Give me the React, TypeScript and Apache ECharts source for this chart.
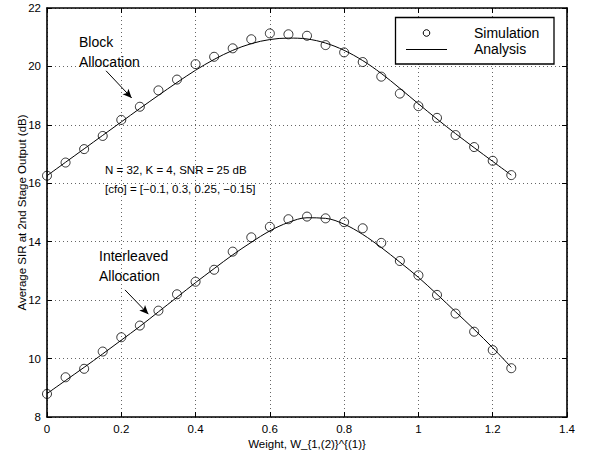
import React, { useEffect, useRef } from "react";
import * as echarts from "echarts";

const weights = [0, 0.05, 0.1, 0.15, 0.2, 0.25, 0.3, 0.35, 0.4, 0.45, 0.5, 0.55, 0.6, 0.65, 0.7, 0.75, 0.8, 0.85, 0.9, 0.95, 1.0, 1.05, 1.1, 1.15, 1.2, 1.25];

const blockSim = [16.26, 16.71, 17.17, 17.62, 18.17, 18.62, 19.18, 19.55, 20.08, 20.33, 20.62, 20.93, 21.13, 21.1, 21.05, 20.73, 20.48, 20.15, 19.65, 19.07, 18.64, 18.24, 17.65, 17.24, 16.77, 16.28];
const blockAna = [16.26, 16.72, 17.18, 17.64, 18.1, 18.56, 19.01, 19.45, 19.87, 20.24, 20.55, 20.78, 20.92, 20.97, 20.94, 20.8, 20.55, 20.2, 19.76, 19.25, 18.72, 18.2, 17.7, 17.22, 16.75, 16.28];

const interSim = [8.79, 9.36, 9.65, 10.24, 10.73, 11.13, 11.64, 12.2, 12.63, 13.04, 13.66, 14.15, 14.51, 14.77, 14.86, 14.8, 14.67, 14.46, 13.96, 13.34, 12.85, 12.18, 11.54, 10.92, 10.29, 9.67];
const interAna = [8.8, 9.25, 9.7, 10.16, 10.63, 11.1, 11.6, 12.1, 12.6, 13.08, 13.55, 13.98, 14.37, 14.66, 14.82, 14.8, 14.6, 14.25, 13.8, 13.3, 12.78, 12.2, 11.6, 11.0, 10.37, 9.7];

const xTicks = [0, 0.2, 0.4, 0.6, 0.8, 1, 1.2, 1.4];
const yTicks = [8, 10, 12, 14, 16, 18, 20, 22];

const blockArrow = [[0.159, 19.85], [0.228, 18.92]];
const interArrow = [[0.21, 12.35], [0.273, 11.52]];

const FONT = "Liberation Sans, Arial, Helvetica, sans-serif";

export default function App() {
  const ref = useRef<HTMLDivElement>(null);
  useEffect(() => {
    if (!ref.current) return;
    const chart = echarts.init(ref.current, undefined, { renderer: "svg" });
    const pairs = (ys: number[]) => weights.map((w, i) => [w, ys[i]]);
    const axisCommon = {
      axisLine: { show: true, onZero: false, lineStyle: { color: "#000", width: 1.6 } },
      axisTick: { show: true, inside: true, length: 5, lineStyle: { color: "#000" } },
    };
    const arrowLine = (pts: number[][]) => ({
      silent: true,
      symbol: ["none", "arrow"],
      symbolSize: [6, 9],
      label: { show: false },
      lineStyle: { color: "#000", width: 1, type: "solid" },
      data: [[{ coord: pts[0] }, { coord: pts[1] }]],
    });
    chart.setOption({
      animation: false,
      backgroundColor: "#fff",
      textStyle: { fontFamily: FONT },
      grid: { left: 47, right: 22, top: 8, bottom: 38 },
      xAxis: [
        {
          type: "value",
          min: 0,
          max: 1.4,
          interval: 0.2,
          name: "Weight, W_{1,(2)}^{(1)}",
          nameLocation: "middle",
          nameGap: 21,
          nameMoveOverlap: false,
          nameTextStyle: { fontSize: 11.5, color: "#000", fontFamily: FONT },
          ...axisCommon,
          axisLabel: {
            color: "#000",
            fontSize: 11.5,
            fontFamily: FONT,
            margin: 6,
            formatter: (v: number) => {
              const t = xTicks.find((k) => Math.abs(k - v) < 1e-6);
              return t === undefined ? "" : String(t);
            },
          },
          splitLine: { show: true, lineStyle: { color: "#666", type: [1, 3], width: 1 } },
        },
        {
          type: "value",
          position: "top",
          min: 0,
          max: 1.4,
          interval: 0.2,
          ...axisCommon,
          axisLabel: { show: false },
          splitLine: { show: false },
        },
      ],
      yAxis: [
        {
          type: "value",
          min: 8,
          max: 22,
          interval: 2,
          name: "Average SIR at 2nd Stage Output (dB)",
          nameLocation: "middle",
          nameGap: 19,
          nameMoveOverlap: false,
          nameTextStyle: { fontSize: 11.5, color: "#000", fontFamily: FONT },
          ...axisCommon,
          axisLabel: {
            color: "#000",
            fontSize: 11.5,
            fontFamily: FONT,
            margin: 6,
            formatter: (v: number) => {
              const t = yTicks.find((k) => Math.abs(k - v) < 1e-6);
              return t === undefined ? "" : String(t);
            },
          },
          splitLine: { show: true, lineStyle: { color: "#666", type: [1, 3], width: 1 } },
        },
        {
          type: "value",
          position: "right",
          min: 8,
          max: 22,
          interval: 2,
          ...axisCommon,
          axisLabel: { show: false },
          splitLine: { show: false },
        },
      ],
      series: [
        {
          name: "Analysis",
          type: "line",
          data: pairs(blockAna),
          smooth: 0.35,
          showSymbol: false,
          symbol: "none",
          lineStyle: { color: "#000", width: 1 },
          markLine: arrowLine(blockArrow),
          z: 2,
        },
        {
          name: "Analysis",
          type: "line",
          data: pairs(interAna),
          smooth: 0.35,
          showSymbol: false,
          symbol: "none",
          lineStyle: { color: "#000", width: 1 },
          markLine: arrowLine(interArrow),
          z: 2,
        },
        {
          name: "Simulation",
          type: "scatter",
          data: pairs(blockSim),
          symbol: "circle",
          symbolSize: 9,
          itemStyle: { color: "rgba(0,0,0,0)", borderColor: "#000", borderWidth: 1 },
          z: 3,
        },
        {
          name: "Simulation",
          type: "scatter",
          data: pairs(interSim),
          symbol: "circle",
          symbolSize: 9,
          itemStyle: { color: "rgba(0,0,0,0)", borderColor: "#000", borderWidth: 1 },
          z: 3,
        },
      ],
      graphic: [
        { type: "rect", shape: { x: 395.5, y: 17.5, width: 158.5, height: 46.5 }, style: { fill: "#fff", stroke: "#000", lineWidth: 1.3 }, z: 10 },
        { type: "circle", shape: { cx: 426.5, cy: 33, r: 3.3 }, style: { fill: "none", stroke: "#000", lineWidth: 1 }, z: 11 },
        { type: "line", shape: { x1: 406, y1: 49.5, x2: 447, y2: 49.5 }, style: { stroke: "#000", lineWidth: 1 }, z: 11 },
        { type: "text", x: 474, y: 33, style: { text: "Simulation", fill: "#000", font: `14px ${FONT}`, textVerticalAlign: "middle" }, z: 11 },
        { type: "text", x: 474, y: 49, style: { text: "Analysis", fill: "#000", font: `14px ${FONT}`, textVerticalAlign: "middle" }, z: 11 },
        { type: "text", x: 79, y: 42, style: { text: "Block", fill: "#000", font: `14px ${FONT}`, textVerticalAlign: "middle" }, z: 11 },
        { type: "text", x: 79, y: 62, style: { text: "Allocation", fill: "#000", font: `14px ${FONT}`, textVerticalAlign: "middle" }, z: 11 },
        { type: "text", x: 99, y: 256, style: { text: "Interleaved", fill: "#000", font: `14px ${FONT}`, textVerticalAlign: "middle" }, z: 11 },
        { type: "text", x: 99, y: 276, style: { text: "Allocation", fill: "#000", font: `14px ${FONT}`, textVerticalAlign: "middle" }, z: 11 },
        { type: "text", x: 105, y: 170, style: { text: "N = 32, K = 4, SNR = 25 dB", fill: "#000", font: `11.5px ${FONT}`, textVerticalAlign: "middle" }, z: 11 },
        { type: "text", x: 105, y: 189, style: { text: "[cfo] = [\u22120.1, 0.3, 0.25, \u22120.15]", fill: "#000", font: `11.5px ${FONT}`, textVerticalAlign: "middle" }, z: 11 },
      ],
    });
    return () => chart.dispose();
  }, []);
  return <div ref={ref} style={{ position: "absolute", left: 0, top: 0, width: 589, height: 455 }} />;
}
